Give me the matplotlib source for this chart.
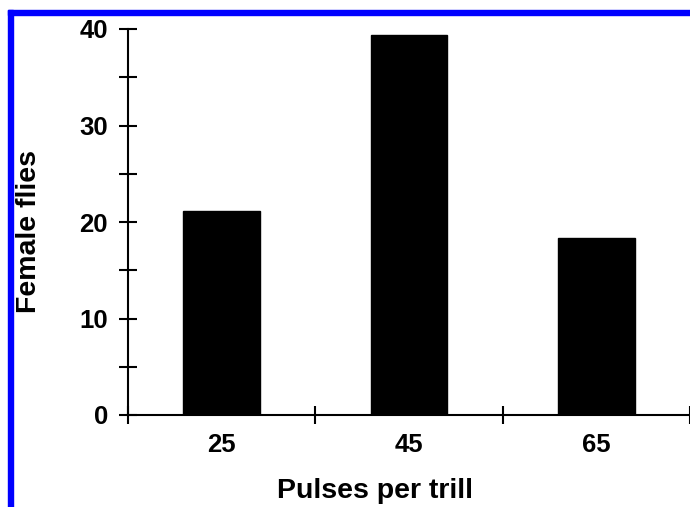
import matplotlib
matplotlib.use('Agg')
import matplotlib.pyplot as plt
from matplotlib.patches import Rectangle

# Values
categories = ['25', '45', '65']
female_flies = [21.1, 39.4, 18.3]
y_ticks = [0, 10, 20, 30, 40]

plt.rcParams['font.family'] = ['Liberation Sans', 'DejaVu Sans']
plt.rcParams['font.weight'] = 'bold'

fig = plt.figure(figsize=(6.9, 5.07), dpi=100)
ax = fig.add_axes([128 / 690, 92 / 507, 562 / 690, 386 / 507])

positions = list(range(len(categories)))
ax.bar(positions, female_flies, width=0.41, color='black', edgecolor='black')

ax.set_xlim(-0.5, len(categories) - 0.5)
ax.set_ylim(0, 40)

# major x ticks sit between categories, labels on minor ticks
ax.set_xticks([p - 0.5 for p in positions] + [len(categories) - 0.5])
ax.set_xticklabels([])
ax.set_xticks(positions, minor=True)
ax.set_xticklabels(categories, minor=True)
ax.tick_params(axis='x', which='minor', length=0, pad=13, labelsize=18.5)
ax.tick_params(axis='x', which='major', direction='inout', length=13, width=1.5)

ax.set_yticks(y_ticks)
ax.set_yticks([5, 15, 25, 35], minor=True)
ax.tick_params(axis='y', which='both', direction='inout', length=13, width=1.5,
               labelsize=18.5, pad=8)

for side in ['top', 'right']:
    ax.spines[side].set_visible(False)
for side in ['left', 'bottom']:
    ax.spines[side].set_linewidth(1.5)

ax.set_ylabel('Female flies', fontsize=20.5, fontweight='bold')
ax.yaxis.set_label_coords(-0.176, 0.475)
ax.set_xlabel('Pulses per trill', fontsize=20.5, fontweight='bold')
ax.xaxis.set_label_coords(0.44, -0.198)
ax.xaxis.label.set_va('center')
ax.yaxis.label.set_va('center')

# blue frame along the top and left edges
fig.add_artist(Rectangle((8 / 690, 0), 5 / 690, 497 / 507, transform=fig.transFigure,
                         color='#0000ff', zorder=10))
fig.add_artist(Rectangle((8 / 690, 492 / 507), 682 / 690, 5 / 507, transform=fig.transFigure,
                         color='#0000ff', zorder=10))

fig.savefig('out.png', dpi=100)
